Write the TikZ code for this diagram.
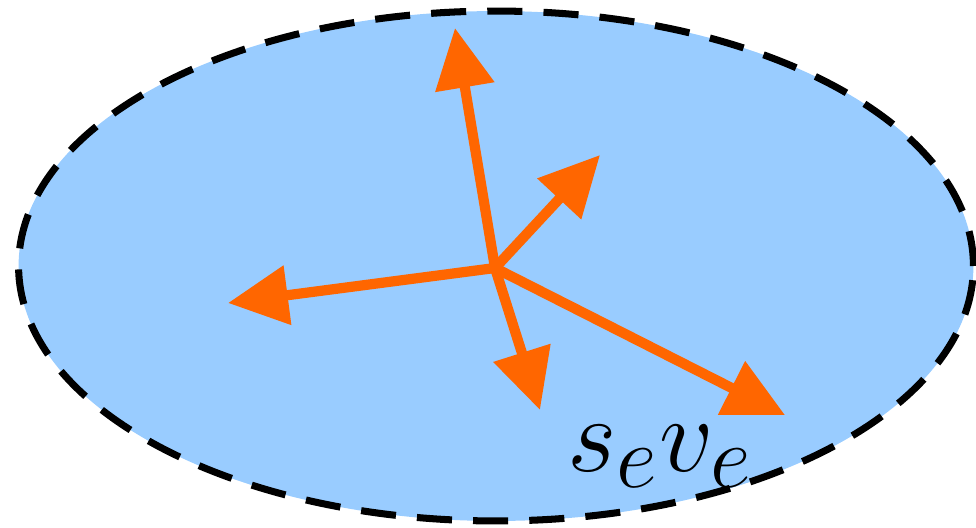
\documentclass[tikz,border=0pt]{standalone}
\usepackage{amsmath,amssymb}
\usepackage{graphicx}
\usepackage{tikz}
\usetikzlibrary{positioning,arrows.meta,shapes.geometric}
\usepackage{xcolor}
\definecolor{regionblue}{HTML}{99CCFF}
\definecolor{velorange}{HTML}{FF6600}

\begin{document}
\begin{tikzpicture}[x=0.02cm, y=-0.02cm,
    region/.style={draw=black, ellipse, fill=regionblue, line width=4pt, dash pattern=on 20pt off 12pt, minimum width=19.1cm, minimum height=10.2cm, inner sep=0pt},
    vel/.style={-{Triangle[length=1.2cm, width=1.15cm]}, line width=5.8pt, color=velorange},
    lbl/.style={inner sep=0pt},
]

\useasboundingbox (0,0) rectangle (976,527);

\node[region] (cell) at (496,266) {};

\coordinate (o) at (495,268);
\coordinate (up) at (455,28);
\coordinate (ur) at (600,155);
\coordinate (lf) at (228,303);
\coordinate (dn) at (540,410);
\coordinate (dr) at (785,415);

\draw[vel] (o) -- (up);
\draw[vel] (o) -- (ur);
\draw[vel] (o) -- (lf);
\draw[vel] (o) -- (dn);
\draw[vel] (o) -- (dr);

\node[lbl] (sv) at (660,456) {\scalebox{2.45}{\Huge $s_e v_e$}};

\end{tikzpicture}
\end{document}
